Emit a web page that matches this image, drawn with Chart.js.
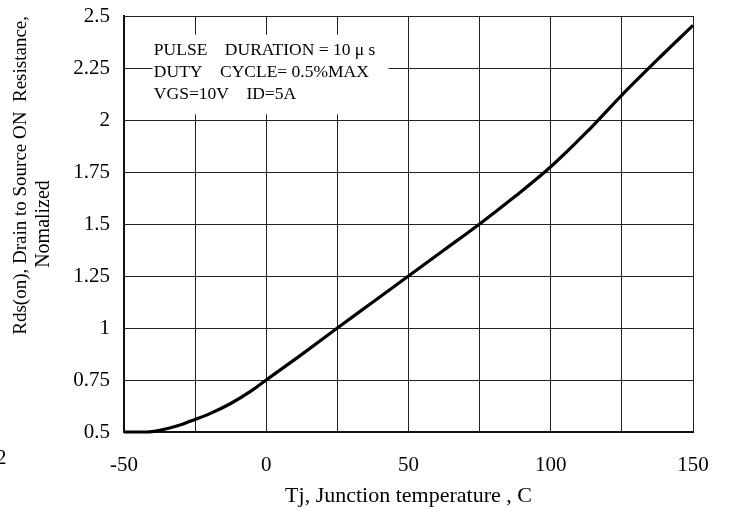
<!DOCTYPE html>
<html>
<head>
<meta charset="utf-8">
<script src="https://cdn.jsdelivr.net/npm/chart.js@4.4.1/dist/chart.umd.min.js"></script>
<style>
  html, body { margin: 0; padding: 0; background: #fff; }
  #wrap { width: 730px; height: 510px; position: relative; }
</style>
</head>
<body>
<div id="wrap"><canvas id="c" width="730" height="510"></canvas></div>
<script>
// ---- data ----
const temperatures = [-50, -42, -37.5, -30, -25, -20, -12.5, -5, 0, 12.5, 25, 37.5, 50, 62.5, 75, 87.5, 100, 112.5, 125, 137.5, 150];
const rdsNormalized = [0.5, 0.5, 0.508, 0.535, 0.56, 0.587, 0.637, 0.70, 0.75, 0.873, 1.0, 1.125, 1.25, 1.375, 1.5, 1.633, 1.775, 1.94, 2.12, 2.29, 2.455];
const xTickValues = [-50, -25, 0, 25, 50, 75, 100, 125, 150];
const xLabelValues = [-50, 0, 50, 100, 150];
const yTickValues = [0.5, 0.75, 1, 1.25, 1.5, 1.75, 2, 2.25, 2.5];
const noteLines = ['PULSE    DURATION = 10 \u03bc s', 'DUTY    CYCLE= 0.5%MAX', 'VGS=10V    ID=5A'];
const xTitle = 'Tj, Junction temperature , C';
const yTitleLine1 = 'Rds(on), Drain to Source ON  Resistance,';
const yTitleLine2 = 'Nomalized';
const strayLabel = '2';

const FONT = '"Liberation Serif", "Times New Roman", serif';

const notePlugin = {
  id: 'notePlugin',
  beforeDatasetsDraw(chart) {
    const { ctx, scales: { x, y } } = chart;
    const left = x.getPixelForValue(-40), right = x.getPixelForValue(43);
    const top = y.getPixelForValue(2.41), bottom = y.getPixelForValue(2.027);
    ctx.save();
    ctx.fillStyle = '#fff';
    ctx.fillRect(left, top, right - left, bottom - top);
    ctx.fillStyle = '#000';
    ctx.font = '17.5px ' + FONT;
    ctx.textBaseline = 'middle';
    ctx.textAlign = 'left';
    const tx = x.getPixelForValue(-39.5);
    const ys = [2.333, 2.227, 2.121];
    noteLines.forEach((t, i) => ctx.fillText(t, tx, y.getPixelForValue(ys[i])));
    ctx.restore();
  },
  afterDraw(chart) {
    const { ctx } = chart;
    ctx.save();
    ctx.fillStyle = '#000';
    ctx.font = '21px ' + FONT;
    ctx.textBaseline = 'middle';
    ctx.textAlign = 'left';
    ctx.fillText(strayLabel, -4, 458);
    ctx.restore();
  }
};

new Chart(document.getElementById('c'), {
  type: 'line',
  data: {
    datasets: [{
      data: temperatures.map((t, i) => ({ x: t, y: rdsNormalized[i] })),
      borderColor: '#000',
      borderWidth: 3.2,
      pointRadius: 0,
      fill: false,
      cubicInterpolationMode: 'monotone',
      clip: false
    }]
  },
  options: {
    responsive: false,
    animation: false,
    devicePixelRatio: 1,
    layout: { padding: { left: 0, right: 37, top: 16, bottom: 0 } },
    plugins: { legend: { display: false }, tooltip: { enabled: false } },
    scales: {
      x: {
        type: 'linear', min: -50, max: 150,
        afterBuildTicks: s => { s.ticks = xTickValues.map(v => ({ value: v })); },
        afterFit: s => { s.height = 78; s.paddingLeft = 0; s.paddingRight = 0; },
        ticks: {
          color: '#000', font: { family: FONT, size: 21 }, padding: 21, maxRotation: 0,
          autoSkip: false,
          callback: v => xLabelValues.includes(v) ? String(v) : ''
        },
        grid: { color: '#222', lineWidth: 1, drawTicks: false },
        border: { color: '#111', width: 2 },
        title: { display: true, text: xTitle, color: '#000', font: { family: FONT, size: 22 }, padding: { top: 0, bottom: 1 } }
      },
      y: {
        type: 'linear', min: 0.5, max: 2.5,
        afterBuildTicks: s => { s.ticks = yTickValues.map(v => ({ value: v })); },
        afterFit: s => { s.width = 92; s.paddingTop = 0; s.paddingBottom = 0; },
        ticks: { color: '#000', font: { family: FONT, size: 21 }, padding: 14, autoSkip: false,
          callback: v => String(v) },
        grid: { color: '#222', lineWidth: 1, drawTicks: false },
        border: { color: '#111', width: 2 },
        title: { display: true, text: yTitleLine2, color: '#000', font: { family: FONT, size: 20 }, padding: { top: 0, bottom: 0 } }
      },
      y2: {
        type: 'linear', position: 'left', min: 0.5, max: 2.5,
        afterFit: s => { s.width = 32; s.paddingTop = 0; s.paddingBottom = 0; },
        ticks: { display: false },
        grid: { display: false, drawTicks: false },
        border: { display: false },
        title: { display: true, text: yTitleLine1, align: 'end', color: '#000', font: { family: FONT, size: 19 }, padding: { top: 10, bottom: 0 } }
      }
    }
  },
  plugins: [notePlugin]
});
</script>
</body>
</html>
